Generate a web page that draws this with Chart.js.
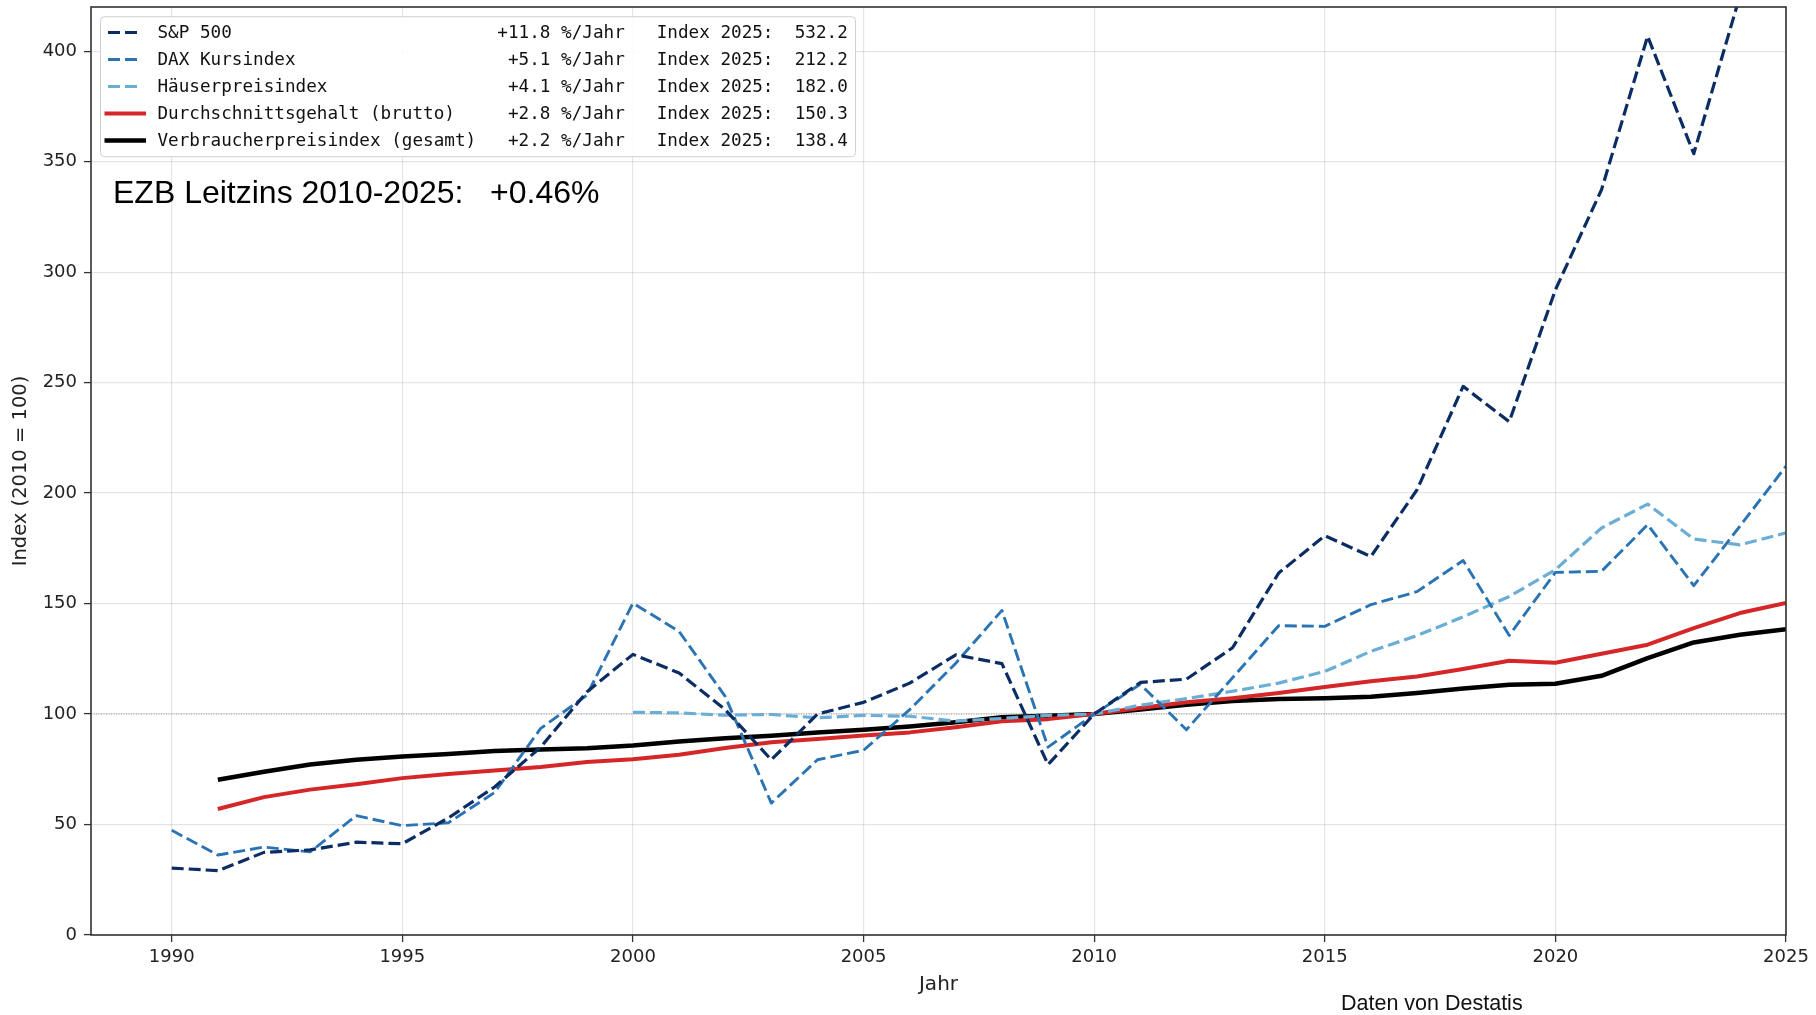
<!DOCTYPE html>
<html>
<head>
<meta charset="utf-8">
<script src="https://cdn.jsdelivr.net/npm/chart.js@4.4.0/dist/chart.umd.min.js"></script>
<style>
  html, body { margin: 0; padding: 0; background: #fff; }
  #wrap { width: 1816px; height: 1015px; }
</style>
</head>
<body>
<div id="wrap"><canvas id="myChart" width="1816" height="1015"></canvas></div>
<script>
// --- data (Index 2010 = 100) ---
var years = [1990, 1991, 1992, 1993, 1994, 1995, 1996, 1997, 1998, 1999,
             2000, 2001, 2002, 2003, 2004, 2005, 2006, 2007, 2008, 2009,
             2010, 2011, 2012, 2013, 2014, 2015, 2016, 2017, 2018, 2019,
             2020, 2021, 2022, 2023, 2024, 2025];

var sp500 = [30.3, 29.1, 37.4, 38.5, 42, 41.3, 53, 67, 85, 110,
             127, 118.6, 102, 79.3, 100, 105.3, 114, 126.8, 122.8, 77.1,
             100, 114.3, 115.8, 130, 163.8, 180.7, 171.3, 201.5, 248.3, 232.3,
             292, 337.3, 406.8, 353.6, 425, 532.2];

var dax = [47.4, 36.2, 39.8, 37.6, 54, 49.5, 50.8, 64.5, 93.5, 108.5,
           150.2, 137.4, 108, 59.7, 79.3, 83.6, 102, 123, 146.9, 85,
           100, 113.5, 92.9, 116.4, 140, 139.7, 149.5, 155.4, 169.5, 135.6,
           164.1, 164.6, 185.7, 158.1, 185, 212.2];

var haeuser = [null, null, null, null, null, null, null, null, null, null,
               100.8, 100.5, 99.5, 99.8, 98.3, 99.4, 99, 96.8, 98, 99.4,
               100, 104, 107, 110.3, 114, 119.3, 128.4, 135.5, 144, 153.2,
               165.3, 184.2, 195, 179.2, 176.6, 182.0];

var gehalt = [null, 57, 62.4, 65.8, 68.2, 71, 72.9, 74.4, 76, 78.3,
              79.5, 81.6, 84.6, 87.2, 88.7, 90.3, 91.7, 94, 96.7, 97.7,
              100, 102.7, 105.3, 107.2, 109.5, 112.2, 114.8, 117, 120.4, 124.1,
              123.2, 127.3, 131.4, 138.9, 145.7, 150.3];

var vpi = [null, 70.3, 73.9, 77.2, 79.3, 80.8, 81.9, 83.3, 84, 84.5,
           85.8, 87.6, 89.1, 90.2, 91.7, 92.9, 94.4, 96.3, 98.6, 99.2,
           100, 102.1, 104.2, 105.9, 106.8, 107.2, 107.8, 109.5, 111.6, 113.3,
           113.7, 117.3, 125.3, 132.4, 135.9, 138.4];

var names = ['S&P 500', 'DAX Kursindex', 'Häuserpreisindex',
             'Durchschnittsgehalt (brutto)', 'Verbraucherpreisindex (gesamt)'];
var rates = [11.8, 5.1, 4.1, 2.8, 2.2];
var index2025 = [532.2, 212.2, 182.0, 150.3, 138.4];

var xTickValues = [1990, 1995, 2000, 2005, 2010, 2015, 2020, 2025];
var yTickValues = [0, 50, 100, 150, 200, 250, 300, 350, 400];

var ezbText = 'EZB Leitzins 2010-2025:   +0.46%';
var sourceText = 'Daten von Destatis';

function pts(values) {
  return years.map(function (yr, i) { return { x: yr, y: values[i] }; });
}

function line(i, values, color, width, dash) {
  return {
    label: names[i],
    data: pts(values),
    borderColor: color,
    borderWidth: width,
    borderDash: dash,
    borderCapStyle: 'butt',
    borderJoinStyle: 'round',
    pointRadius: 0,
    fill: false,
    tension: 0
  };
}

var DASH = [12, 5];

// dataset 0 ends up on top
var datasets = [
  line(0, sp500, '#0b2d63', 3.2, DASH),
  line(1, dax, '#2b74b4', 2.9, DASH),
  line(2, haeuser, '#6aaed6', 3.2, DASH),
  line(3, gehalt, '#d62728', 4, []),
  line(4, vpi, '#000000', 4.5, [])
];

function legendLabel(i) {
  return names[i].padEnd(30) + '  ' + ('+' + rates[i].toFixed(1)).padStart(5) +
    ' %/Jahr   Index 2025:' + index2025[i].toFixed(1).padStart(7);
}

var extras = {
  id: 'extras',
  beforeDatasetsDraw: function (chart) {
    var ctx = chart.ctx, a = chart.chartArea;
    var y = chart.scales.y.getPixelForValue(100);
    ctx.save();
    ctx.strokeStyle = '#999';
    ctx.lineWidth = 1;
    ctx.setLineDash([1, 1.5]);
    ctx.beginPath();
    ctx.moveTo(a.left, y);
    ctx.lineTo(a.right, y);
    ctx.stroke();
    ctx.restore();
  },
  afterDatasetsDraw: function (chart) {
    var ctx = chart.ctx, a = chart.chartArea;
    ctx.save();
    ctx.strokeStyle = '#333';
    ctx.lineWidth = 1.6;
    ctx.strokeRect(a.left, a.top, a.right - a.left, a.bottom - a.top);
    ctx.restore();
  },
  afterDraw: function (chart) {
    var ctx = chart.ctx;
    ctx.save();

    // legend box
    var bx = 100.5, by = 16.7, bw = 755, bh = 140, r = 4;
    ctx.beginPath();
    ctx.moveTo(bx + r, by);
    ctx.arcTo(bx + bw, by, bx + bw, by + bh, r);
    ctx.arcTo(bx + bw, by + bh, bx, by + bh, r);
    ctx.arcTo(bx, by + bh, bx, by, r);
    ctx.arcTo(bx, by, bx + bw, by, r);
    ctx.closePath();
    ctx.fillStyle = 'rgba(255,255,255,0.85)';
    ctx.fill();
    ctx.strokeStyle = '#d0d0d0';
    ctx.lineWidth = 1;
    ctx.stroke();

    ctx.font = '17.65px "DejaVu Sans Mono"';
    ctx.textBaseline = 'middle';
    ctx.textAlign = 'left';
    names.forEach(function (n, i) {
      var ds = chart.data.datasets[i];
      var cy = 32.5 + i * 27;
      ctx.strokeStyle = ds.borderColor;
      ctx.lineWidth = ds.borderWidth;
      ctx.lineCap = 'butt';
      ctx.beginPath();
      if (ds.borderDash.length) {
        ctx.setLineDash(DASH);
        ctx.moveTo(108, cy);
        ctx.lineTo(137.5, cy);
      } else {
        ctx.setLineDash([]);
        ctx.moveTo(104.5, cy);
        ctx.lineTo(146, cy);
      }
      ctx.stroke();
      ctx.setLineDash([]);
      ctx.fillStyle = '#111';
      ctx.fillText(legendLabel(i), 157.5, cy + 1);
    });

    ctx.fillStyle = '#000';
    ctx.font = '32px "Liberation Sans"';
    ctx.textBaseline = 'alphabetic';
    ctx.fillText(ezbText, 113, 203);

    ctx.fillStyle = '#111';
    ctx.font = '21.5px "Liberation Sans"';
    ctx.fillText(sourceText, 1341, 1010);
    ctx.restore();
  }
};

Chart.defaults.color = '#222';

var ctx = document.getElementById('myChart').getContext('2d');
var myChart = new Chart(ctx, {
  type: 'line',
  data: { datasets: datasets },
  options: {
    responsive: false,
    animation: false,
    devicePixelRatio: 1,
    layout: { padding: { left: 0, right: 30, top: 7, bottom: 0 } },
    plugins: {
      legend: { display: false },
      tooltip: { enabled: false }
    },
    scales: {
      x: {
        type: 'linear',
        min: 1988.25,
        max: 2025,
        afterBuildTicks: function (s) {
          s.ticks = xTickValues.map(function (v) { return { value: v }; });
        },
        afterFit: function (s) {
          s.height = 80;
          s.paddingLeft = 0;
          s.paddingRight = 0;
        },
        ticks: {
          font: { family: 'DejaVu Sans', size: 18 },
          color: '#222',
          padding: 5,
          maxRotation: 0,
          autoSkip: false,
          callback: function (v) { return String(v); }
        },
        grid: {
          color: 'rgba(0,0,0,0.1)',
          lineWidth: 1.2,
          tickColor: '#333',
          tickLength: 7,
          tickWidth: 1.3
        },
        border: { display: false },
        title: {
          display: true,
          text: 'Jahr',
          font: { family: 'DejaVu Sans', size: 20 },
          color: '#222',
          padding: { top: 0, bottom: 18 }
        }
      },
      y: {
        type: 'linear',
        min: 0,
        max: 420,
        afterBuildTicks: function (s) {
          s.ticks = yTickValues.map(function (v) { return { value: v }; });
        },
        afterFit: function (s) {
          s.width = 91;
          s.paddingTop = 0;
          s.paddingBottom = 0;
        },
        ticks: {
          font: { family: 'DejaVu Sans', size: 18 },
          color: '#222',
          padding: 7,
          autoSkip: false,
          callback: function (v) { return String(v); }
        },
        grid: {
          color: 'rgba(0,0,0,0.1)',
          lineWidth: 1.2,
          tickColor: '#333',
          tickLength: 7,
          tickWidth: 1.3
        },
        border: { display: false },
        title: {
          display: true,
          text: 'Index (2010 = 100)',
          font: { family: 'DejaVu Sans', size: 19.5 },
          color: '#222',
          padding: { top: 9.5, bottom: 0 }
        }
      }
    }
  },
  plugins: [extras]
});
</script>
</body>
</html>
